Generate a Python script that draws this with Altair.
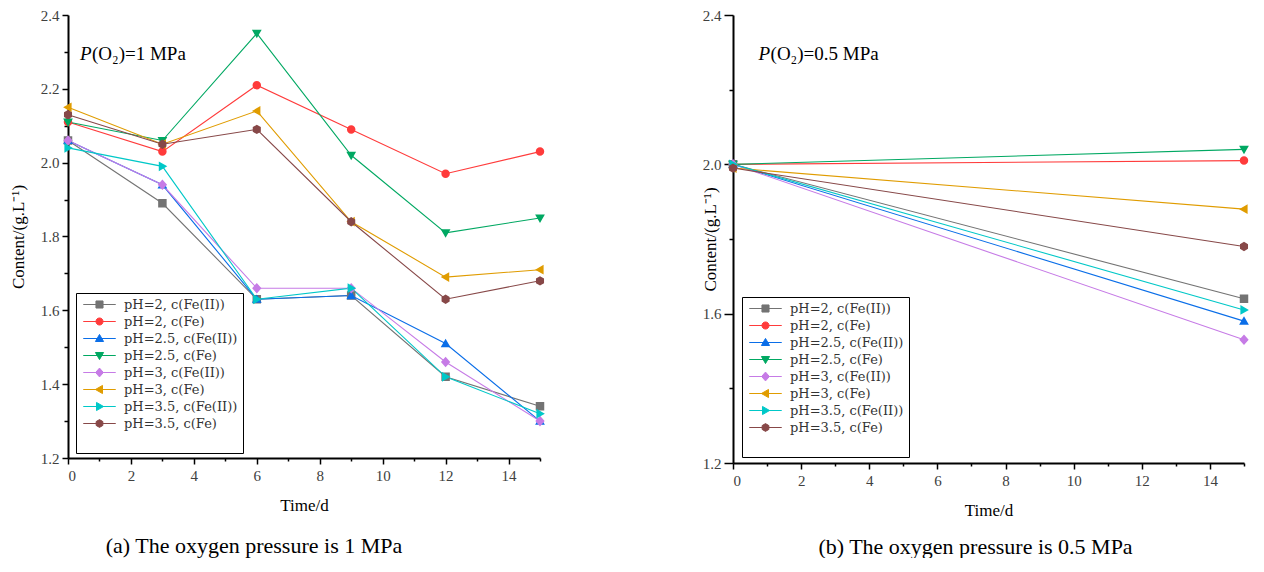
import altair as alt
import pandas as pd

# ---------------- data ----------------
series = [
    "pH=2, c(Fe(II))", "pH=2, c(Fe)", "pH=2.5, c(Fe(II))", "pH=2.5, c(Fe)",
    "pH=3, c(Fe(II))", "pH=3, c(Fe)", "pH=3.5, c(Fe(II))", "pH=3.5, c(Fe)",
]
colors = ["#737373", "#ff3b3b", "#0a6ee8", "#00a862",
          "#c67be6", "#e09c00", "#00c8c8", "#874848"]

# panel (a): P(O2) = 1 MPa
time_a = [0, 3, 6, 9, 12, 15]
a_ph2_fe2 = [2.06, 1.89, 1.63, 1.64, 1.42, 1.34]
a_ph2_fe = [2.11, 2.03, 2.21, 2.09, 1.97, 2.03]
a_ph25_fe2 = [2.06, 1.94, 1.63, 1.64, 1.51, 1.30]
a_ph25_fe = [2.11, 2.06, 2.35, 2.02, 1.81, 1.85]
a_ph3_fe2 = [2.06, 1.94, 1.66, 1.66, 1.46, 1.30]
a_ph3_fe = [2.15, 2.05, 2.14, 1.84, 1.69, 1.71]
a_ph35_fe2 = [2.04, 1.99, 1.63, 1.66, 1.42, 1.32]
a_ph35_fe = [2.13, 2.05, 2.09, 1.84, 1.63, 1.68]

# panel (b): P(O2) = 0.5 MPa
time_b = [0, 15]
b_ph2_fe2 = [2.00, 1.64]
b_ph2_fe = [2.00, 2.01]
b_ph25_fe2 = [2.00, 1.58]
b_ph25_fe = [2.00, 2.04]
b_ph3_fe2 = [2.00, 1.53]
b_ph3_fe = [1.99, 1.88]
b_ph35_fe2 = [2.00, 1.61]
b_ph35_fe = [1.99, 1.78]

x_ticks = list(range(0, 16))
y_ticks_a = [1.2, 1.3, 1.4, 1.5, 1.6, 1.7, 1.8, 1.9, 2.0, 2.1, 2.2, 2.3, 2.4]
y_ticks_b = [1.2, 1.4, 1.6, 1.8, 2.0, 2.2, 2.4]

# marker shapes (unit square -1..1); the legend versions carry a line segment
markers = [
    "M-1,-1H1V1H-1Z",                                   # square
    "M1,0A1,1,0,1,1,-1,0A1,1,0,1,1,1,0Z",               # circle
    "M0,-1.15L1.15,0.85H-1.15Z",                        # triangle up
    "M0,1.15L1.15,-0.85H-1.15Z",                        # triangle down
    "M0,-1.25L1.1,0L0,1.25L-1.1,0Z",                    # diamond
    "M-1.15,0L0.85,-1.15V1.15Z",                        # triangle left
    "M1.15,0L-0.85,-1.15V1.15Z",                        # triangle right
    "M0,-1.1L0.95,-0.55V0.55L0,1.1L-0.95,0.55V-0.55Z",  # hexagon
]
legend_shapes = ["M-4.6,0H4.6" + m for m in markers]
legend_shape_expr = (
    "[" + ",".join(f"'{p}'" for p in legend_shapes) + "]"
    + "[indexof([" + ",".join(f"'{s}'" for s in series) + "], datum.value)]"
)

SERIF = "Liberation Serif"
LEGEND_FONT = "DejaVu Serif"


def make_df(times, cols):
    rows = []
    for name, vals in zip(series, cols):
        for t, v in zip(times, vals):
            rows.append({"time": t, "value": v, "series": name})
    return pd.DataFrame(rows)


df_a = make_df(time_a, [a_ph2_fe2, a_ph2_fe, a_ph25_fe2, a_ph25_fe,
                        a_ph3_fe2, a_ph3_fe, a_ph35_fe2, a_ph35_fe])
df_b = make_df(time_b, [b_ph2_fe2, b_ph2_fe, b_ph25_fe2, b_ph25_fe,
                        b_ph3_fe2, b_ph3_fe, b_ph35_fe2, b_ph35_fe])


def panel(df, width, height, y_ticks, major_test, tick_major, y_title_x,
          legend_xy, note_xy, note_text, caption, cap_dx, cap_offset, use_encode):
    x_enc = alt.X(
        "time:Q",
        scale=alt.Scale(domain=[0, 15], nice=False, zero=False),
        axis=alt.Axis(
            values=x_ticks, orient="bottom",
            labelExpr="datum.value % 2 == 0 ? datum.label : ''",
            tickSize={"condition": {"test": "datum.value % 2 == 0", "value": 6}, "value": 3},
            labelPadding=4, titlePadding=14, title="Time/d",
        ),
    )
    y_enc = alt.Y(
        "value:Q",
        scale=alt.Scale(domain=[1.2, 2.4], nice=False, zero=False),
        axis=alt.Axis(
            values=y_ticks, orient="left", format=".1f",
            labelExpr=f"{major_test} ? datum.label : ''",
            tickSize={"condition": {"test": major_test, "value": tick_major}, "value": 4},
            labelPadding=3, title="Content/(g.L\u207b\u00b9)",
            titleX=y_title_x, titleY=height / 2, titleBaseline="middle",
        ),
    )
    leg_kw = dict(
        orient="none", legendX=legend_xy[0], legendY=legend_xy[1],
        title=" ", titleOrient="bottom", titleFontSize=12, titlePadding=6,
        strokeColor="black", fillColor="white", padding=5,
        symbolSize=50, symbolStrokeWidth=1, symbolOpacity=1,
        symbolOffset=12, labelOffset=18,
        labelFont=LEGEND_FONT, labelFontSize=13, labelColor="#333333",
        rowPadding=3, labelLimit=400,
    )
    if use_encode:
        leg_kw["encode"] = {"symbols": {
            "shape": {"value": {"expr": legend_shape_expr}},
            "strokeWidth": {"value": 1},
        }}
        shape_range = markers
    else:
        shape_range = legend_shapes
    leg = alt.Legend(**leg_kw)
    base = alt.Chart(df)
    lines = base.mark_line(strokeWidth=1.1).encode(
        x=x_enc, y=y_enc,
        color=alt.Color("series:N", sort=series, scale=alt.Scale(range=colors), legend=None),
    )
    pts = base.mark_point(filled=True, size=72, strokeWidth=0, opacity=1).encode(
        x=x_enc, y=y_enc,
        fill=alt.Fill("series:N", scale=alt.Scale(domain=series, range=colors), legend=leg),
        stroke=alt.Stroke("series:N", scale=alt.Scale(domain=series, range=colors), legend=leg),
        shape=alt.Shape("series:N", scale=alt.Scale(domain=series, range=shape_range), legend=leg),
    )
    note_df = pd.DataFrame({"time": [note_xy[0]], "value": [note_xy[1]]})
    note_p = alt.Chart(note_df).mark_text(
        text="P", font=SERIF, fontSize=19, fontStyle="italic", align="left",
        baseline="middle", color="black",
    ).encode(x=x_enc, y=y_enc)
    note_r = alt.Chart(note_df).mark_text(
        text=note_text, font=SERIF, fontSize=19, align="left", dx=12,
        baseline="middle", color="black",
    ).encode(x=x_enc, y=y_enc)
    return alt.layer(lines, pts, note_p, note_r).properties(
        width=width, height=height,
        title=alt.TitleParams(
            text=caption, orient="bottom", anchor="middle", frame="group",
            font=SERIF, fontSize=22, fontWeight="normal", color="black",
            dx=cap_dx, offset=cap_offset,
        ),
    )


def build(use_encode):
    left = panel(df_a, 472, 443, y_ticks_a, "round(datum.value*10) % 2 == 0", 6, -50,
                 (8, 278), (0.38, 2.295), "(O\u2082)=1 MPa",
                 "(a) The oxygen pressure is 1 MPa", -50, 22.5, use_encode)
    right = panel(df_b, 511, 448, y_ticks_b, "round(datum.value*10) % 4 == 0", 9, -23,
                  (9, 282), (0.75, 2.296), "(O\u2082)=0.5 MPa",
                  "(b) The oxygen pressure is 0.5 MPa", -13, 18.5, use_encode)
    ch = alt.hconcat(left, right, spacing=141).resolve_scale(
        color="independent", fill="independent", stroke="independent", shape="independent",
    ).resolve_legend(
        fill="independent", stroke="independent", shape="independent", color="independent",
    ).properties(
        padding={"left": 9, "top": 8, "right": 0, "bottom": 0},
        background="white",
    ).configure_view(stroke=None).configure_axis(
        grid=False, domainColor="black", domainWidth=2, tickColor="black", tickWidth=1.5,
        labelColor="#404040", labelFont=SERIF, labelFontSize=15,
        titleFont=SERIF, titleFontSize=17, titleFontWeight="normal", titleColor="black",
    )
    ch.to_dict()
    return ch


try:
    chart = build(True)
except Exception:
    chart = build(False)

chart.save("out.html", embed_options={"renderer": "svg", "actions": False})
